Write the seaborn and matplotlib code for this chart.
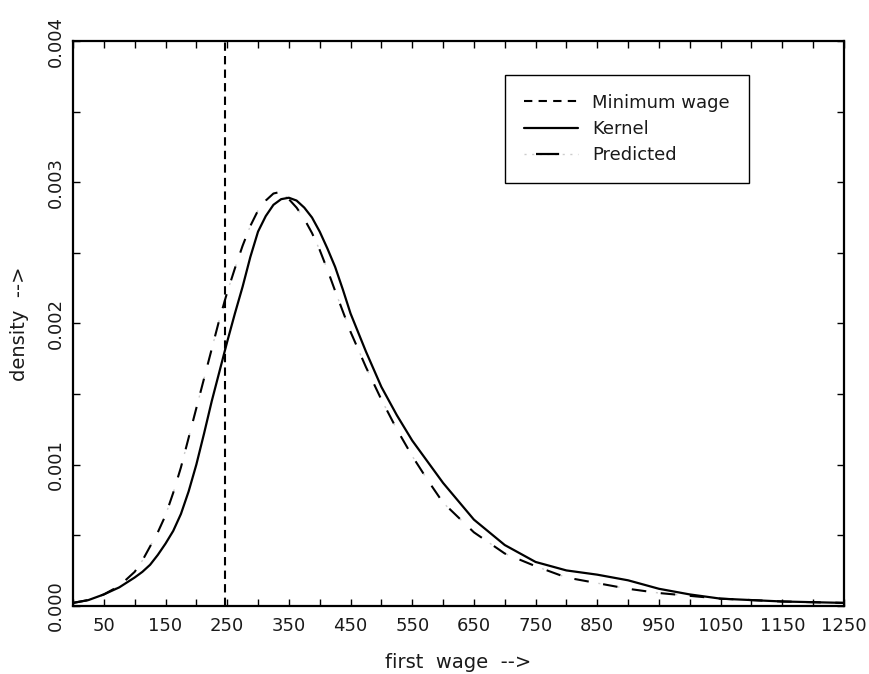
import pandas as pd
import seaborn as sns
import matplotlib.pyplot as plt
from matplotlib.lines import Line2D
from matplotlib.ticker import MultipleLocator, FixedLocator, FormatStrFormatter
from matplotlib.legend_handler import HandlerTuple

# Values
min_wage = 246

kernel_x = [0, 25, 50, 75, 100, 112.5, 125, 137.5, 150, 162.5, 175, 187.5, 200,
            212.5, 225, 237.5, 250, 262.5, 275, 287.5, 300, 312.5, 325, 337.5, 350,
            362.5, 375, 387.5, 400, 412.5, 425, 437.5, 450, 475, 500, 525, 550, 575,
            600, 650, 700, 750, 800, 850, 900, 950, 1000, 1050, 1100, 1150, 1200, 1250]
kernel_y = [0.00002, 0.00004, 0.00008, 0.00013, 0.00020, 0.00024, 0.00029, 0.00036,
            0.00044, 0.00053, 0.00065, 0.00081, 0.00100, 0.00122, 0.00145, 0.00166,
            0.00187, 0.00207, 0.00226, 0.00247, 0.00265, 0.00276, 0.00284, 0.00288,
            0.00289, 0.00287, 0.00282, 0.00275, 0.00265, 0.00253, 0.00240, 0.00224,
            0.00207, 0.00180, 0.00155, 0.00135, 0.00117, 0.00102, 0.00087, 0.00061,
            0.00043, 0.00031, 0.00025, 0.00022, 0.00018, 0.00012, 0.00008, 0.00005,
            0.00004, 0.00003, 0.000025, 0.00002]

pred_x = [0, 25, 50, 75, 100, 112.5, 125, 137.5, 150, 162.5, 175, 187.5, 200, 212.5,
          225, 237.5, 250, 262.5, 275, 287.5, 300, 312.5, 325, 335, 342.5, 350, 362.5,
          375, 387.5, 400, 412.5, 425, 450, 475, 500, 525, 550, 575, 600, 650, 700,
          750, 800, 850, 900, 950, 1000, 1050, 1100, 1150, 1200, 1250]
pred_y = [0.00002, 0.00004, 0.00008, 0.00014, 0.00024, 0.00032, 0.00042, 0.00052,
          0.00064, 0.00080, 0.00098, 0.00119, 0.00140, 0.00161, 0.00182, 0.00203,
          0.00222, 0.00239, 0.00255, 0.00269, 0.00280, 0.00287, 0.00292, 0.00293,
          0.00291, 0.00288, 0.00282, 0.00274, 0.00264, 0.00252, 0.00238, 0.00223,
          0.00194, 0.00169, 0.00146, 0.00125, 0.00106, 0.00089, 0.00073, 0.00052,
          0.00037, 0.00028, 0.00020, 0.00016, 0.00012, 0.00009, 0.00007, 0.00005,
          0.00004, 0.00003, 0.000025, 0.00002]

x_major = [50, 150, 250, 350, 450, 550, 650, 750, 850, 950, 1050, 1150, 1250]

kernel = pd.DataFrame({"wage": kernel_x, "density": kernel_y})
pred = pd.DataFrame({"wage": pred_x, "density": pred_y})

sns.set_style("ticks")
plt.rcParams['font.family'] = ['DejaVu Sans']
plt.rcParams['font.size'] = 13
plt.rcParams['text.color'] = '#1a1a1a'
plt.rcParams['axes.labelcolor'] = '#1a1a1a'
plt.rcParams['xtick.labelcolor'] = '#1a1a1a'
plt.rcParams['ytick.labelcolor'] = '#1a1a1a'

fig = plt.figure(figsize=(8.69, 6.74), dpi=100)
ax = fig.add_axes([0.084, 0.1013, 0.8872, 0.8378])

# predicted: long black dashes with faint grey dots in the gaps
sns.lineplot(data=pred, x="wage", y="density", ax=ax, color="#cccccc", lw=1.0,
             linestyle=(10.5, (1.5, 12.5)))
sns.lineplot(data=pred, x="wage", y="density", ax=ax, color="black", lw=1.5,
             linestyle=(0, (7, 7)))
sns.lineplot(data=kernel, x="wage", y="density", ax=ax, color="black", lw=1.6)
ax.axvline(min_wage, color="black", lw=1.5, linestyle=(0, (4, 2.5)))

ax.set_xlim(0, 1250)
ax.set_ylim(0, 0.004)
ax.xaxis.set_major_locator(FixedLocator(x_major))
ax.xaxis.set_minor_locator(MultipleLocator(100))
ax.yaxis.set_major_locator(MultipleLocator(0.001))
ax.yaxis.set_minor_locator(MultipleLocator(0.0005))
ax.yaxis.set_major_formatter(FormatStrFormatter("%.3f"))
ax.tick_params(which="both", direction="in", top=True, right=True,
               length=5, width=1.0, color="black")
ax.tick_params(axis="x", which="major", pad=8, labelsize=13)
ax.tick_params(axis="y", which="major", pad=6, labelsize=13)
plt.setp(ax.get_yticklabels(), rotation=90, va="center")
for s in ax.spines.values():
    s.set_linewidth(1.6)
    s.set_color("black")

ax.set_xlabel("first  wage  -->", fontsize=14)
ax.set_ylabel("density  -->", fontsize=14)
ax.xaxis.set_label_coords(0.5, -0.084)
ax.yaxis.set_label_coords(-0.057, 0.5)

h_min = Line2D([], [], color="black", lw=1.5, linestyle=(0, (4, 3)))
h_ker = Line2D([], [], color="black", lw=1.6)
h_dot = Line2D([], [], color="#cccccc", lw=1.0, linestyle=(0, (1.5, 4)))
h_dash = Line2D([], [], color="black", lw=1.6, linestyle=(0, (0.001, 5.4, 10.4, 30)))
leg = ax.legend([h_min, h_ker, (h_dot, h_dash)],
                ["Minimum wage", "Kernel", "Predicted"],
                handler_map={tuple: HandlerTuple(ndivide=1, pad=0)},
                loc="upper left", bbox_to_anchor=(0.560, 0.940), borderaxespad=0,
                fontsize=13, handlelength=3.0, handletextpad=0.8, borderpad=1.04,
                labelspacing=0.45, fancybox=False, framealpha=1)
leg.get_frame().set_edgecolor("black")
leg.get_frame().set_linewidth(1.0)

fig.savefig("out.png", dpi=100)
